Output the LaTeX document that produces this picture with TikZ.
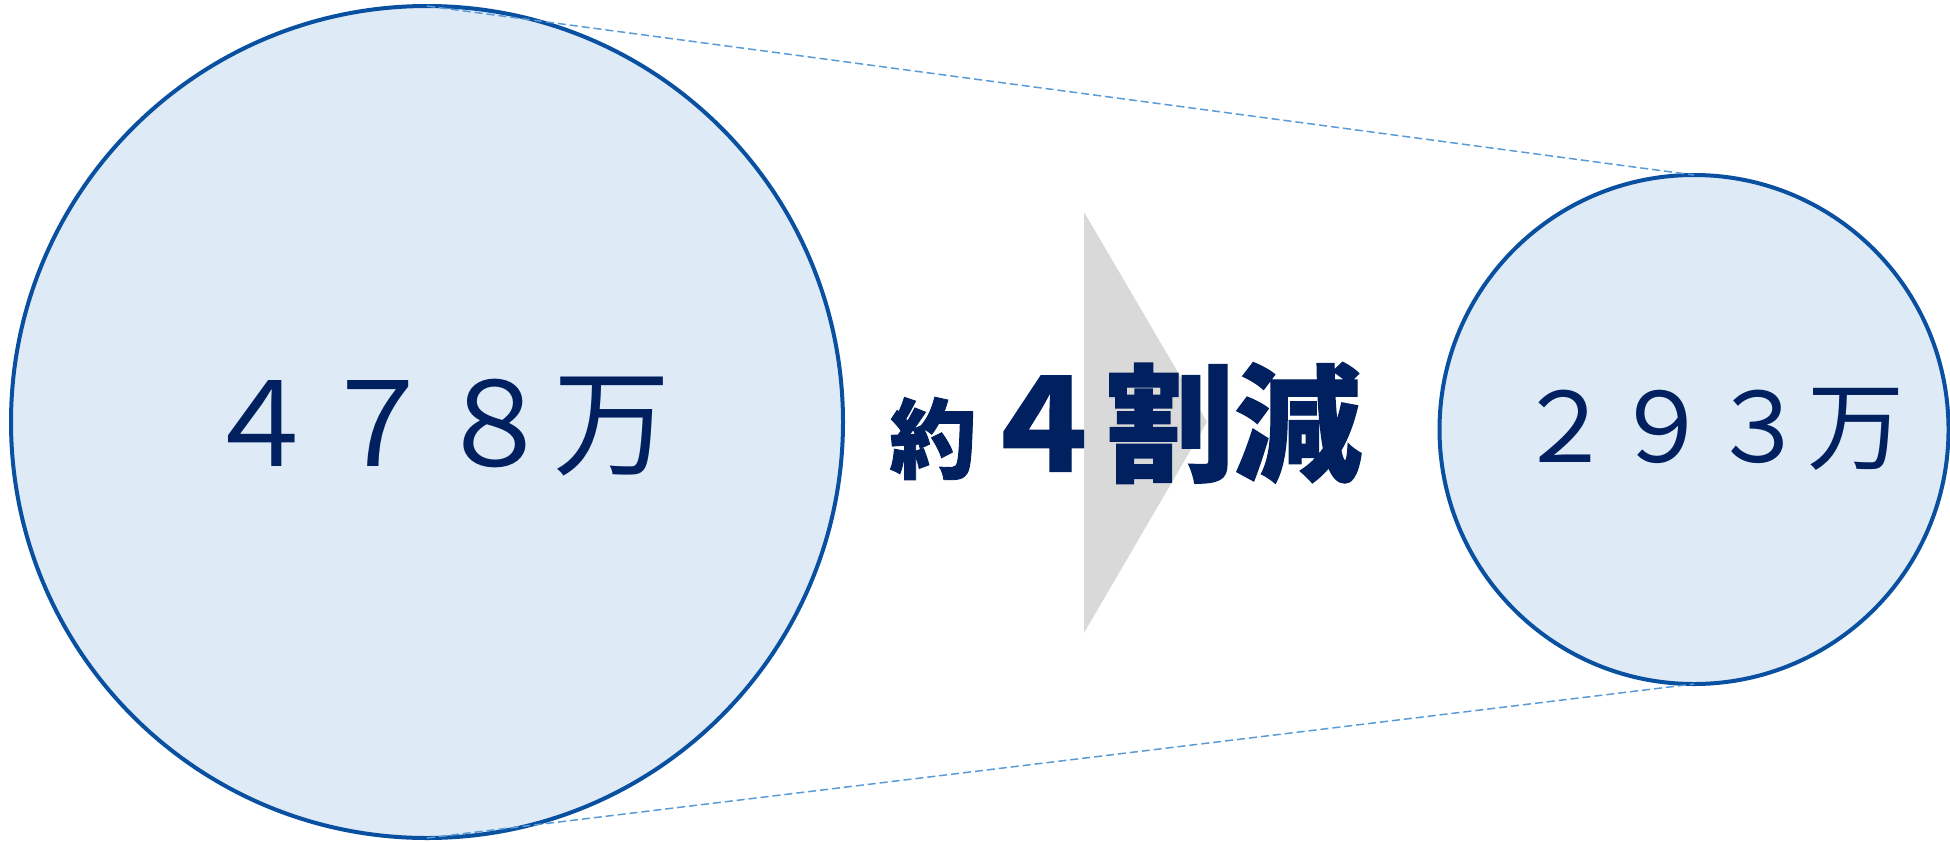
\documentclass[tikz,border=0pt]{standalone}
\usepackage{fontspec}
\newfontfamily\jp{Noto Sans CJK JP}
\newfontfamily\jpheavy{Noto Sans CJK JP}[UprightFeatures={FakeBold=1},BoldFeatures={FakeBold=1}]
\definecolor{circfill}{HTML}{DEEAF6}
\definecolor{circline}{HTML}{0A50A1}
\definecolor{navy}{HTML}{002060}
\definecolor{dashblue}{HTML}{5B9BD5}
\definecolor{arrowgray}{HTML}{D9D9D9}
\begin{document}
\begin{tikzpicture}[x=1pt,y=-1pt,
  bubble/.style={circle, draw=circline, fill=circfill, line width=4pt, inner sep=0pt, outer sep=0pt},
  numtext/.style={inner sep=0pt, outer sep=0pt, text=navy},
  guide/.style={draw=dashblue, line width=1.5pt, dash pattern=on 8pt off 4pt}]
\useasboundingbox (0,0) rectangle (1950,841);
\node[bubble, minimum size=832pt] (big) at (427,422) {};
\node[bubble, minimum size=509pt] (small) at (1694,429.5) {};
\draw[guide] (big.north) -- (small.north);
\draw[guide] (big.south) -- (small.south);
\coordinate (ta) at (1084,212);
\coordinate (tb) at (1207,422);
\coordinate (tc) at (1084,633);
\fill[arrowgray] (ta) -- (tb) -- (tc) -- cycle;
\node[numtext, font=\jp\fontsize{117}{117}\selectfont] (v1) at (436.5,427) {４７８万};
\node[numtext, font=\jp\fontsize{97}{97}\selectfont] (v2) at (1710,429) {２９３万};
\node[numtext, font=\jpheavy\bfseries\fontsize{87}{87}\selectfont] (yaku) at (933,438.5) {約};
\node[numtext, font=\jpheavy\bfseries\fontsize{128}{128}\selectfont] (red) at (1170,423) {４割減};
\end{tikzpicture}
\end{document}
